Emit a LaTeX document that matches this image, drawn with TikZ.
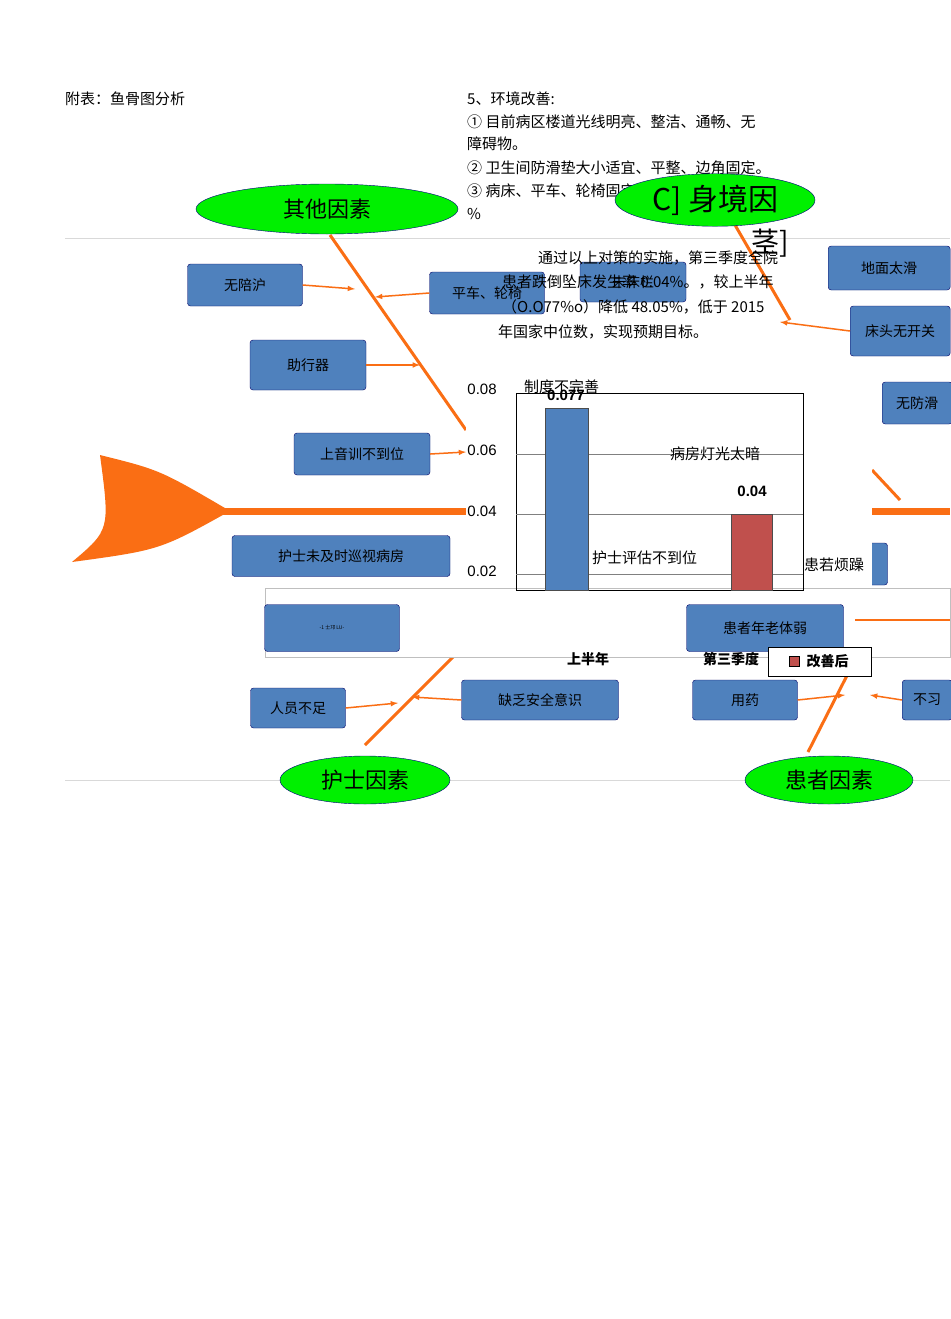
\documentclass[tikz,border=0pt]{standalone}
\usepackage{fontspec}
\usetikzlibrary{shapes.geometric}
\setmainfont{Liberation Sans}
\newfontfamily\cjk{Noto Sans CJK SC}
\definecolor{orng}{RGB}{250,110,20}
\definecolor{bblue}{RGB}{79,129,189}
\definecolor{bred}{RGB}{192,80,77}
\definecolor{ggreen}{RGB}{0,240,0}
\begin{document}
\begin{tikzpicture}[x=1pt,y=-1pt,font=\cjk,
  bbox/.style={draw=blue!40!black,fill=bblue,rounded corners=3pt,text=black,font=\cjk\fontsize{14}{16}\selectfont},
  gell/.style={ellipse,draw=blue!50!black,fill=ggreen,font=\cjk\fontsize{22}{24}\selectfont},
  bone/.style={draw=orng,line width=3pt},
  barr/.style={draw=orng,line width=1.5pt,-latex},
  txt/.style={anchor=west,font=\cjk\fontsize{15}{17}\selectfont,inner sep=0}]
\useasboundingbox (0,0) rectangle (950,1319);
\fill[white] (0,0) rectangle (950,1319);
\node[txt] (t0) at (65,99) {附表：鱼骨图分析};
\node[txt] (t1) at (467,99) {5、环境改善:};
\node[txt] (t2) at (467,122) {① 目前病区楼道光线明亮、整洁、通畅、无};
\node[txt] (t3) at (467,144) {障碍物。};
\node[txt] (t4) at (467,168) {② 卫生间防滑垫大小适宜、平整、边角固定。};
\node[txt] (t5) at (467,191) {③ 病床、平车、轮椅固定良好，完好率100};
\node[txt] (t6) at (467,214) {\%};
\draw[gray!30] (65,238) -- (950,238);
\draw[gray!30] (65,780) -- (950,780);
% spine
\draw[draw=orng,line width=7pt] (220,511) -- (950,511);
\fill[orng] (100,455) .. controls (160,470) .. (230,511) .. controls (160,550) .. (72,562) .. controls (110,530) .. (100,455) -- cycle;
% bones
\draw[bone] (330,235) -- (466,430);
\draw[bone] (735,225) -- (790,320);
\draw[bone] (470,640) -- (365,745);
\draw[bone] (860,650) -- (808,752);
\draw[bone] (872,470) -- (900,500);
% ellipses
\node[gell,minimum width=262,minimum height=50] (e1) at (327,209) {其他因素};
\node[gell,minimum width=170,minimum height=48] (e2) at (365,780) {护士因素};
\node[gell,minimum width=168,minimum height=48] (e3) at (829,780) {患者因素};
\node[gell,minimum width=200,minimum height=48,font=\cjk\fontsize{30}{32}\selectfont] (e4) at (715,200) {C] 身境因};
\node[font=\cjk\fontsize{28}{30}\selectfont] (e4b) at (770,243) {茎]};
% boxes
\node[bbox,minimum width=115,minimum height=42] (b1) at (245,285) {无陪沪};
\node[bbox,minimum width=115,minimum height=42] (b2) at (487,293) {平车、轮椅};
\node[bbox,minimum width=106,minimum height=40] (b3) at (633,282) {未床栏};
\node[bbox,minimum width=122,minimum height=44,anchor=west] (b4) at (828,268) {地面太滑};
\node[bbox,minimum width=100,minimum height=50,anchor=west] (b5) at (850,331) {床头无开关};
\node[bbox,minimum width=116,minimum height=50] (b6) at (308,365) {助行器};
\node[bbox,minimum width=70,minimum height=42,anchor=west] (b7) at (882,403) {无防滑};
\node[bbox,minimum width=136,minimum height=42] (b8) at (362,454) {上音训不到位};
\node[bbox,minimum width=218,minimum height=41] (b9) at (341,556) {护士未及时巡视病房};
\node[bbox,minimum width=95,minimum height=40] (b12) at (298,708) {人员不足};
\node[bbox,minimum width=157,minimum height=40] (b13) at (540,700) {缺乏安全意识};
\node[bbox,minimum width=105,minimum height=40] (b14) at (745,700) {用药};
\node[bbox,minimum width=50,minimum height=40,anchor=west] (b15) at (902,700) {不习};
\node[bbox,minimum width=85,minimum height=42] (b16) at (845,564) {};
% small arrows
\draw[barr] (b1.east) -- (355,289);
\draw[barr] (b2.west) -- (375,297);
\draw[barr] (b6.east) -- (420,365);
\draw[barr] (b8.east) -- (466,452);
\draw[barr] (b12.east) -- (398,703);
\draw[barr] (b13.west) -- (412,697);
\draw[barr] (b14.east) -- (845,695);
\draw[barr] (b15.west) -- (870,695);
\draw[barr] (b5.west) -- (780,322);
% chart panel
\fill[white] (466,380) rectangle (872,588);
\fill[white] (265,588) rectangle (950,657);
\draw[gray!50] (265,588) rectangle (950,657);
\draw[orng,line width=1.5pt] (855,620) -- (950,620);
\node[bbox,minimum width=135,minimum height=47,font=\cjk\tiny] (b10) at (332,628) {-1 士邛 LU-};
\node[bbox,minimum width=157,minimum height=47] (b11) at (765,628) {患者年老体弱};
\draw (516,393) rectangle (803,590);
\foreach \y in {454,514,574} \draw[gray] (516,\y) -- (803,\y);
\fill[bblue,draw=black!70] (545,408) rectangle (588,590);
\fill[bred,draw=black!70] (731,514) rectangle (772,590);
\node[font=\bfseries\fontsize{15}{17}\selectfont] (v1) at (566,395) {0.077};
\node[font=\bfseries\fontsize{15}{17}\selectfont] (v2) at (752,491) {0.04};
\node[font=\fontsize{15}{17}\selectfont] (y1) at (482,389) {0.08};
\node[font=\fontsize{15}{17}\selectfont] (y2) at (482,450) {0.06};
\node[font=\fontsize{15}{17}\selectfont] (y3) at (482,511) {0.04};
\node[font=\fontsize{15}{17}\selectfont] (y4) at (482,571) {0.02};
\node[font=\cjk\bfseries\fontsize{14}{16}\selectfont] (x1) at (588,659) {上半年};
\node[font=\cjk\bfseries\fontsize{14}{16}\selectfont] (x2) at (731,659) {第三季度};
\node[draw,fill=white,minimum width=103,minimum height=29] (lg) at (820,662) {};
\fill[bred,draw=black] (789,656) rectangle (799,666);
\node[font=\cjk\bfseries\fontsize{14}{16}\selectfont,anchor=west] (lt) at (803,661) {改善后};
% overlay texts
\node[txt] (o1) at (524,387) {制度不完善};
\node[txt] (o2) at (670,454) {病房灯光太暗};
\node[txt] (o3) at (592,558) {护士评估不到位};
\node[txt] (o4) at (804,565) {患若烦躁};
\node[txt] (o5) at (538,258) {通过以上对策的实施，第三季度全院};
\node[txt] (o6) at (502,282) {患者跌倒坠床发生率 0.04\%。，较上半年};
\node[txt] (o7) at (502,307) {（O.O77\%o）降低 48.05\%，低于 2015};
\node[txt] (o8) at (498,332) {年国家中位数，实现预期目标。};
\end{tikzpicture}
\end{document}
